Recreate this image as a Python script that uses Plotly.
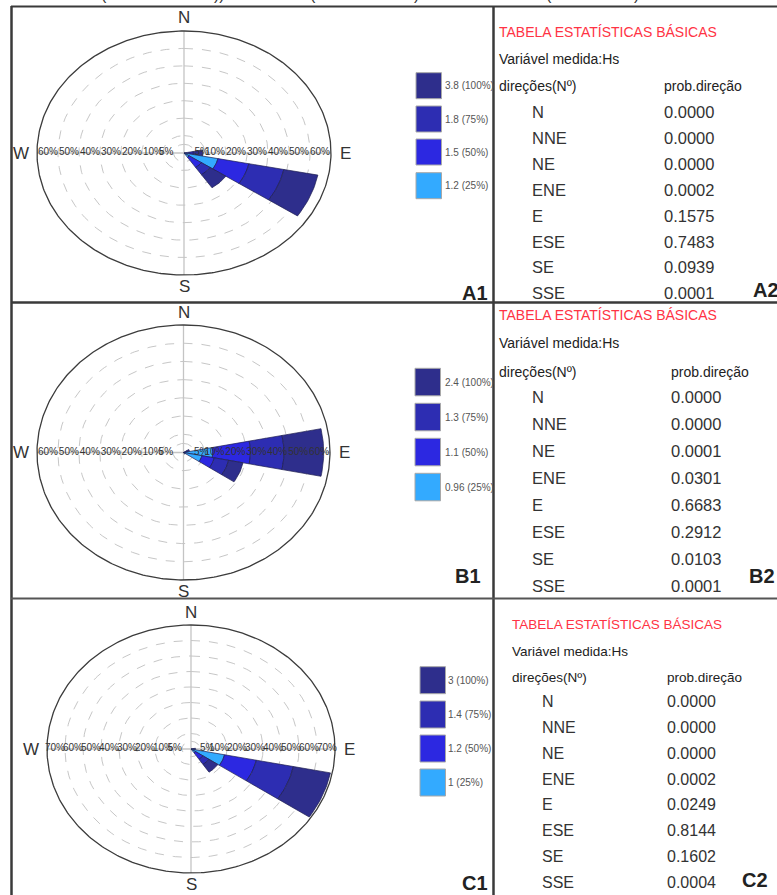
import numpy as np
import plotly.graph_objects as go

W, H = 777, 895

# ---------------- data ----------------
directions = ["N", "NNE", "NE", "ENE", "E", "ESE", "SE", "SSE",
              "S", "SSW", "SW", "WSW", "W", "WNW", "NW", "NNW"]
table_dirs = ["N", "NNE", "NE", "ENE", "E", "ESE", "SE", "SSE"]

# stacked class frequencies (%) per direction, read from the roses
rose_A_25 = [0, 0, 0, 0, 1.0, 16.5, 3.0, 0, 0, 0, 0, 0, 0, 0, 0, 0]
rose_A_50 = [0, 0, 0, 0, 1.5, 15.0, 7.0, 0, 0, 0, 0, 0, 0, 0, 0, 0]
rose_A_75 = [0, 0, 0, 0, 2.0, 17.0, 5.0, 0, 0, 0, 0, 0, 0, 0, 0, 0]
rose_A_100 = [0, 0, 0, 0, 4.5, 16.5, 9.0, 0, 0, 0, 0, 0, 0, 0, 0, 0]

rose_B_25 = [0, 0, 0, 0.5, 14.0, 9.0, 0.3, 0, 0, 0, 0, 0, 0, 0, 0, 0]
rose_B_50 = [0, 0, 0, 0.5, 18.0, 6.0, 0.2, 0, 0, 0, 0, 0, 0, 0, 0, 0]
rose_B_75 = [0, 0, 0, 1.0, 16.0, 7.0, 0.2, 0, 0, 0, 0, 0, 0, 0, 0, 0]
rose_B_100 = [0, 0, 0, 1.0, 19.0, 7.0, 0.3, 0, 0, 0, 0, 0, 0, 0, 0, 0]

rose_C_25 = [0, 0, 0, 0, 0.5, 19.0, 3.0, 0, 0, 0, 0, 0, 0, 0, 0, 0]
rose_C_50 = [0, 0, 0, 0, 0.5, 18.0, 5.0, 0, 0, 0, 0, 0, 0, 0, 0, 0]
rose_C_75 = [0, 0, 0, 0, 0.5, 21.0, 4.0, 0, 0, 0, 0, 0, 0, 0, 0, 0]
rose_C_100 = [0, 0, 0, 0, 1.0, 21.0, 6.0, 0, 0, 0, 0, 0, 0, 0, 0, 0]

ticks_AB = [5, 10, 20, 30, 40, 50, 60]
ticks_C = [5, 10, 20, 30, 40, 50, 60, 70]
rmax_AB = 70
rmax_C = 80

legend_A = ["3.8 (100%)", "1.8 (75%)", "1.5 (50%)", "1.2 (25%)"]
legend_B = ["2.4 (100%)", "1.3 (75%)", "1.1 (50%)", "0.96 (25%)"]
legend_C = ["3 (100%)", "1.4 (75%)", "1.2 (50%)", "1 (25%)"]

prob_A = [0.0000, 0.0000, 0.0000, 0.0002, 0.1575, 0.7483, 0.0939, 0.0001]
prob_B = [0.0000, 0.0000, 0.0001, 0.0301, 0.6683, 0.2912, 0.0103, 0.0001]
prob_C = [0.0000, 0.0000, 0.0000, 0.0002, 0.0249, 0.8144, 0.1602, 0.0004]

table_title = "TABELA ESTATÍSTICAS BÁSICAS"
table_var = "Variável medida:Hs"
table_h1 = "direções(Nº)"
table_h2 = "prob.direção"

# ---------------- styles ----------------
class_colors = ["#33aaff", "#2c28e1", "#2d2db2", "#2e2e8c"]  # 25,50,75,100
legend_colors = ["#2e2e8c", "#2d2db2", "#2c28e1", "#33aaff"]  # top to bottom
FONT = "Liberation Sans, Arial, sans-serif"


def px(x):
    return x / W


def py(y):
    return 1 - y / H


fig = go.Figure()
annotations = []
shapes = []


def text(x, y, s, size, color="#222", anchor="left", bold=False, va="middle"):
    annotations.append(dict(
        x=px(x), y=py(y), xref="paper", yref="paper", text=("<b>%s</b>" % s) if bold else s,
        showarrow=False, xanchor=anchor, yanchor=va,
        font=dict(family=FONT, size=size, color=color)))


def add_rose(idx, classes, ticks, rmax, cx, cy, hw, hh):
    sfx = "" if idx == 1 else str(idx)
    xa, ya = "x" + sfx, "y" + sfx
    pad = 1.03
    fig.layout["xaxis" + sfx] = dict(domain=[px(cx - hw * pad), px(cx + hw * pad)],
                                     range=[-rmax * pad, rmax * pad], visible=False,
                                     fixedrange=True, anchor=ya)
    fig.layout["yaxis" + sfx] = dict(domain=[py(cy + hh * pad), py(cy - hh * pad)],
                                     range=[-rmax * pad, rmax * pad], visible=False,
                                     fixedrange=True, anchor=xa)
    t = np.linspace(0, 2 * np.pi, 361)
    common = dict(xaxis=xa, yaxis=ya, hoverinfo="skip", showlegend=False)
    # dashed grid ellipses
    for r in ticks:
        fig.add_trace(go.Scatter(x=r * np.sin(t), y=r * np.cos(t), mode="lines",
                                 line=dict(color="#b8b8b8", width=0.8, dash="dash"), **common))
    # cross
    fig.add_trace(go.Scatter(x=[-rmax, rmax, None, 0, 0], y=[0, 0, None, -rmax, rmax],
                             mode="lines", line=dict(color="#c4c4c4", width=1.3), **common))
    # wedges
    for k, d in enumerate(directions):
        theta = k * 22.5
        cum = 0.0
        ang = np.radians(np.linspace(theta - 11.25, theta + 11.25, 20))
        for ci, vals in enumerate(classes):
            v = vals[k]
            if v <= 0:
                continue
            r0, r1 = cum, cum + v
            cum = r1
            xs = list(r1 * np.sin(ang)) + list(r0 * np.sin(ang[::-1]))
            ys = list(r1 * np.cos(ang)) + list(r0 * np.cos(ang[::-1]))
            xs.append(xs[0])
            ys.append(ys[0])
            fig.add_trace(go.Scatter(x=xs, y=ys, mode="lines", fill="toself",
                                     fillcolor=class_colors[ci],
                                     line=dict(color="#1e1e50", width=0.7), **common))
    # outer ellipse
    fig.add_trace(go.Scatter(x=rmax * np.sin(t), y=rmax * np.cos(t), mode="lines",
                             line=dict(color="#3c3c3c", width=1.3), **common))
    # tick labels
    lab = ["%d%%" % v for v in ticks]
    fig.add_trace(go.Scatter(x=ticks, y=[0] * len(ticks), mode="text", text=lab,
                             textposition="middle right",
                             textfont=dict(family=FONT, size=10, color="#333"), **common))
    fig.add_trace(go.Scatter(x=[-v for v in ticks], y=[0] * len(ticks), mode="text", text=lab,
                             textposition="middle left",
                             textfont=dict(family=FONT, size=10, color="#333"), **common))
    # compass letters
    text(cx, cy - hh - 13, "N", 17, "#333", "center")
    text(cx, cy + hh + 11, "S", 17, "#333", "center")
    text(cx - hw - 16, cy, "W", 17, "#333", "center")
    text(cx + hw + 14, cy, "E", 17, "#333", "center")


add_rose(1, [rose_A_25, rose_A_50, rose_A_75, rose_A_100], ticks_AB, rmax_AB, 184, 153, 147, 122)
add_rose(2, [rose_B_25, rose_B_50, rose_B_75, rose_B_100], ticks_AB, rmax_AB, 183.5, 452.5, 146.5, 127.5)
add_rose(3, [rose_C_25, rose_C_50, rose_C_75, rose_C_100], ticks_C, rmax_C, 191, 749, 144, 124)


def add_legend(labels, x0, tops, size, lx):
    for i, (lbl, top) in enumerate(zip(labels, tops)):
        shapes.append(dict(type="rect", xref="paper", yref="paper",
                           x0=px(x0), x1=px(x0 + 25.5), y0=py(top + size), y1=py(top),
                           fillcolor=legend_colors[i], line=dict(color="#a8a8a8", width=1)))
        text(lx, top + size / 2, lbl, 10, "#555", "left")


add_legend(legend_A, 416, [72.7, 106, 139, 172.7], 26, 443)
add_legend(legend_B, 415, [368.3, 403.3, 438.3, 473.3], 27.5, 442.5)
add_legend(legend_C, 420, [666.7, 701, 735, 769], 27, 446)


def add_table(probs, x0, y_title, y_var, y_hdr, xdir, xval, y0, step, tsize, rsize):
    text(x0, y_title, table_title, tsize, "#ff3344", "left")
    text(x0, y_var, table_var, tsize, "#222", "left")
    text(x0, y_hdr, table_h1, tsize, "#222", "left")
    text(xval, y_hdr, table_h2, tsize, "#222", "left")
    for i, (d, p) in enumerate(zip(table_dirs, probs)):
        text(xdir, y0 + i * step, d, rsize, "#333", "left")
        text(xval, y0 + i * step, "%.4f" % p, rsize, "#333", "left")


add_table(prob_A, 496.5, 32, 59, 86, 530, 661.5, 112.3, 25.85, 14, 16.5)
add_table(prob_B, 496.5, 315, 343, 371.5, 530, 668.5, 397.3, 26.9, 14, 16.5)
add_table(prob_C, 510, 624, 651.5, 677, 540, 665, 701.7, 25.8, 13.5, 16)

# panel labels
text(475, 293, "A1", 20, "#222", "center", True)
text(751, 290, "A2", 20, "#222", "left", True)
text(468, 576, "B1", 20, "#222", "center", True)
text(747, 576, "B2", 20, "#222", "left", True)
text(475, 883, "C1", 20, "#222", "center", True)
text(740, 880, "C2", 20, "#222", "left", True)

# cropped caption remnants at the top edge
for xx, s in [(104, "("), (219, "))"), (313, "("), (416, ")"), (549, "("), (636, ")")]:
    annotations.append(dict(x=px(xx), y=py(-5), xref="paper", yref="paper", text=s,
                            showarrow=False, xanchor="center", yanchor="middle",
                            font=dict(family=FONT, size=16, color="#333")))


# frame lines
def line(x0, y0, x1, y1, w=2, c="#3a3a3a"):
    shapes.append(dict(type="line", xref="paper", yref="paper", x0=px(x0), y0=py(y0),
                       x1=px(x1), y1=py(y1), line=dict(color=c, width=w)))


line(11, 6.5, 777, 6.5, 2)
line(11.5, 6, 11.5, 895, 2.5)
line(493.5, 6, 493.5, 895, 2.5)
line(11, 302.5, 777, 302.5, 2.5)
line(11, 598.5, 777, 598.5, 2, "#555")

fig.update_layout(width=W, height=H, autosize=False,
                  margin=dict(l=0, r=0, t=0, b=0),
                  paper_bgcolor="white", plot_bgcolor="rgba(0,0,0,0)",
                  showlegend=False, annotations=annotations, shapes=shapes)

fig.write_html("out.html", config={"displayModeBar": False},
               post_script="document.body.style.margin='0';document.body.style.overflow='hidden';")
